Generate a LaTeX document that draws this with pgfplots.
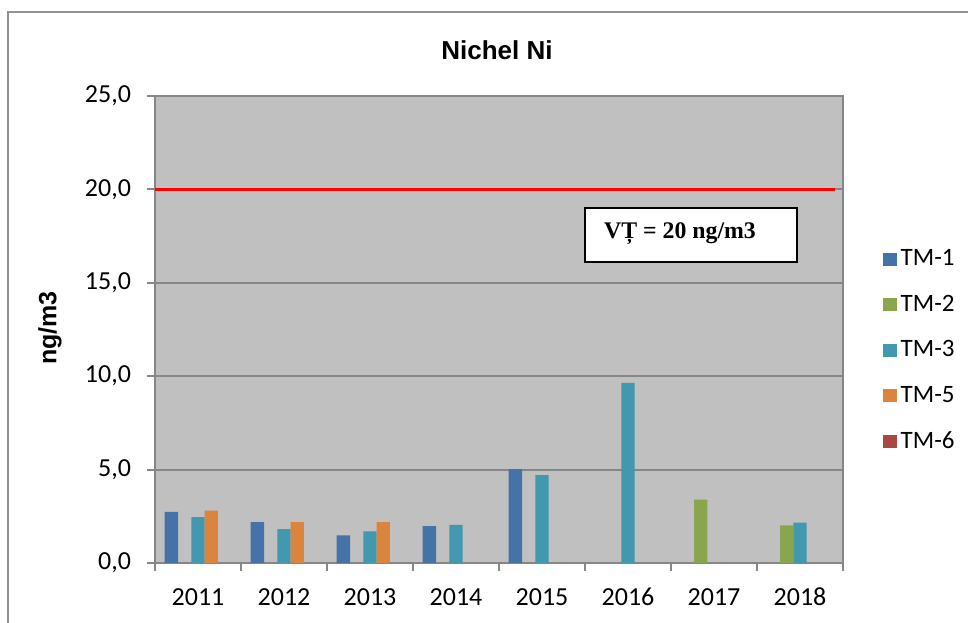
\documentclass[border=0pt]{standalone}
\usepackage{pgfplots}
\pgfplotsset{compat=1.18}
\usepackage{fontspec}
\setmainfont{Carlito}
\newfontfamily\arialf{Liberation Sans}
\newfontfamily\timesf{Liberation Serif}
\definecolor{tmA}{HTML}{4572A7}
\definecolor{tmB}{HTML}{89A54E}
\definecolor{tmC}{HTML}{4198AF}
\definecolor{tmE}{HTML}{DB843D}
\definecolor{tmF}{HTML}{AA4643}
\definecolor{plotbg}{HTML}{C0C0C0}
\definecolor{gridc}{HTML}{868686}
\pgfplotsset{sqlegend/.style={legend image code/.code={\fill[##1] (0pt,-3.25pt) rectangle (7pt,3.25pt);}}}
\begin{document}
\begin{tikzpicture}[x=0.5pt,y=0.5pt]
\path[use as bounding box] (0,0) rectangle (968,622);
\draw[color=gridc!90, line width=1pt] (8,-5) -- (8,610) -- (975,610);
\begin{axis}[
  at={(77.5pt,29.5pt)}, anchor=south west, scale only axis,
  width=344pt, height=233.5pt,
  xmin=-0.5, xmax=7.5, ymin=0, ymax=25,
  ybar, bar width=0.155,
  axis background/.style={fill=plotbg},
  axis line style={draw=gridc, line width=1pt},
  ymajorgrids, grid style={draw=gridc, line width=1pt},
  ytick={0,5,10,15,20,25},
  yticklabel style={/tikz/xshift=-4.5pt, /pgf/number format/fixed, /pgf/number format/fixed zerofill, /pgf/number format/precision=1, /pgf/number format/use comma, /pgf/number format/assume math mode=true},
  tick label style={font=\fontsize{13}{15}\selectfont},
  xtick={-0.5,0.5,1.5,2.5,3.5,4.5,5.5,6.5,7.5}, xticklabels={},
  extra x ticks={0,1,2,3,4,5,6,7},
  extra x tick labels={2011,2012,2013,2014,2015,2016,2017,2018},
  extra x tick style={major tick length=0pt, grid=none, xticklabel style={anchor=base, yshift=-21pt}},
  tick align=outside, major tick length=4pt,
  tick style={draw=gridc, line width=1pt},
  xtick pos=left, ytick pos=left,
  legend style={at={(1.0484,0.689)}, anchor=north west, draw=none, fill=none,
    font=\fontsize{12.5}{15}\selectfont, row sep=9.2pt},
  legend cell align=left,
]
\addplot[fill=tmA, draw=none, bar shift=-0.31, forget plot] coordinates {(0,2.74) (1,2.19) (2,1.48) (3,1.98) (4,5.03)};
\addplot[fill=tmB, draw=none, bar shift=-0.155, forget plot] coordinates {(6,3.39) (7,2.02)};
\addplot[fill=tmC, draw=none, bar shift=0, forget plot] coordinates {(0,2.46) (1,1.81) (2,1.69) (3,2.04) (4,4.70) (5,9.64) (7,2.16)};
\addplot[fill=tmE, draw=none, bar shift=0.155, forget plot] coordinates {(0,2.81) (1,2.19) (2,2.19)};
\addplot[draw=red, line width=1.5pt, sharp plot, forget plot] coordinates {(-0.5,20) (7.41,20)};
\addlegendimage{sqlegend, fill=tmA, draw=none}
\addlegendentry{TM-1}
\addlegendimage{sqlegend, fill=tmB, draw=none}
\addlegendentry{TM-2}
\addlegendimage{sqlegend, fill=tmC, draw=none}
\addlegendentry{TM-3}
\addlegendimage{sqlegend, fill=tmE, draw=none}
\addlegendentry{TM-5}
\addlegendimage{sqlegend, fill=tmF, draw=none}
\addlegendentry{TM-6}
\end{axis}
\draw[black, line width=1pt, fill=white] (585,414) rectangle (797,360);
\node at (680,388) {\timesf\bfseries\fontsize{11.9}{14}\selectfont VȚ = 20 ng/m3};
\node at (497,572) {\arialf\bfseries\fontsize{13}{15}\selectfont Nichel Ni};
\node[rotate=90] at (50,294) {\arialf\bfseries\fontsize{12.5}{15}\selectfont ng/m3};
\end{tikzpicture}
\end{document}
